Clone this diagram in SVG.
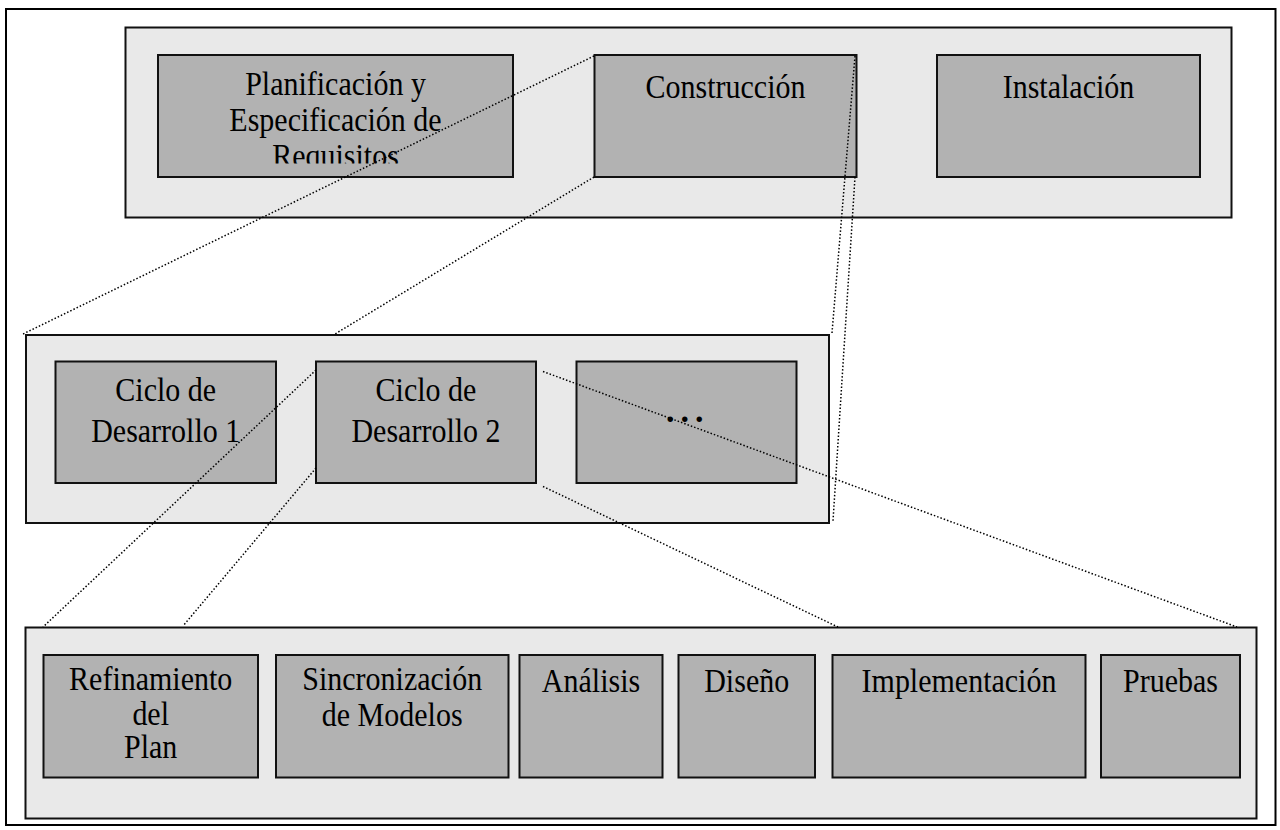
<svg xmlns="http://www.w3.org/2000/svg" width="1280" height="830" viewBox="0 0 1280 830">
<style>
.frame{fill:#fff;stroke:#000;stroke-width:2}
.cont{fill:#e9e9e9;stroke:#111;stroke-width:2}
.box{fill:#b2b2b2;stroke:#111;stroke-width:2}
.t{font-family:"Liberation Serif","Times New Roman",serif;font-size:30px;fill:#000;text-anchor:middle}
.dots{font-family:"Liberation Serif","Times New Roman",serif;font-size:34px;font-weight:bold;fill:#000;letter-spacing:6px}
.c{fill:none;stroke:#000;stroke-width:1.5;stroke-dasharray:1.5 2}
</style>
<defs>
<clipPath id="clipPlan"><rect x="158" y="55" width="355" height="108.5"/></clipPath>
</defs>
<rect class="frame" x="6" y="9" width="1269.5" height="816"/>

<g id="fases">
<rect class="cont" x="125.5" y="27.5" width="1106" height="190"/>
</g>
<g id="planificacion">
<rect class="box" x="158" y="55" width="355" height="122"/>
<g clip-path="url(#clipPlan)">
<g transform="translate(335.5 94.5) scale(1 1.12)"><text class="t" x="0" y="0">Planificación y<tspan x="0" dy="32.5">Especificación de</tspan><tspan x="0" dy="32.5">Requisitos</tspan></text></g>
</g>
</g>
<g id="construccion">
<rect class="box" x="594.5" y="55" width="262" height="122"/>
<g transform="translate(725.5 98) scale(1 1.12)"><text class="t" x="0" y="0">Construcción</text></g>
</g>
<g id="instalacion">
<rect class="box" x="937" y="55" width="263" height="122"/>
<g transform="translate(1068.5 98) scale(1 1.12)"><text class="t" x="0" y="0">Instalación</text></g>
</g>

<g id="ciclos">
<rect class="cont" x="26" y="335" width="803" height="188"/>
</g>
<g id="ciclo1">
<rect class="box" x="55.5" y="361.5" width="220.5" height="121.5"/>
<g transform="translate(165.7 401) scale(1 1.12)"><text class="t" x="0" y="0">Ciclo de<tspan x="0" dy="36.5">Desarrollo 1</tspan></text></g>
</g>
<g id="ciclo2">
<rect class="box" x="316" y="361.5" width="220" height="121.5"/>
<g transform="translate(426 401) scale(1 1.12)"><text class="t" x="0" y="0">Ciclo de<tspan x="0" dy="36.5">Desarrollo 2</tspan></text></g>
</g>
<g id="ciclo3">
<rect class="box" x="576.5" y="361.5" width="220" height="121.5"/>
<text class="dots" x="666" y="422">...</text>
</g>

<g id="actividades">
<rect class="cont" x="25.5" y="627.5" width="1231" height="191"/>
</g>
<g id="refinamiento">
<rect class="box" x="43.5" y="655" width="214.5" height="122.5"/>
<g transform="translate(150.7 690) scale(1 1.12)"><text class="t" x="0" y="0">Refinamiento<tspan x="0" dy="31.5">del</tspan><tspan x="0" dy="29.5">Plan</tspan></text></g>
</g>
<g id="sincronizacion">
<rect class="box" x="276" y="655" width="232.5" height="122.5"/>
<g transform="translate(392.2 690) scale(1 1.12)"><text class="t" x="0" y="0">Sincronización<tspan x="0" dy="32.5">de Modelos</tspan></text></g>
</g>
<g id="analisis">
<rect class="box" x="519.5" y="655" width="143" height="122.5"/>
<g transform="translate(591 692) scale(1 1.12)"><text class="t" x="0" y="0">Análisis</text></g>
</g>
<g id="diseno">
<rect class="box" x="678.5" y="655" width="136.5" height="122.5"/>
<g transform="translate(746.7 692) scale(1 1.12)"><text class="t" x="0" y="0">Diseño</text></g>
</g>
<g id="implementacion">
<rect class="box" x="832.5" y="655" width="253" height="122.5"/>
<g transform="translate(959 692) scale(1 1.12)"><text class="t" x="0" y="0">Implementación</text></g>
</g>
<g id="pruebas">
<rect class="box" x="1101" y="655" width="139" height="122.5"/>
<g transform="translate(1170.5 692) scale(1 1.12)"><text class="t" x="0" y="0">Pruebas</text></g>
</g>

<g id="connectors">
<line class="c" x1="594" y1="56" x2="23" y2="334"/>
<line class="c" x1="594" y1="177" x2="335" y2="334"/>
<line class="c" x1="855" y1="56" x2="832" y2="333"/>
<line class="c" x1="855" y1="177" x2="833" y2="521"/>
<line class="c" x1="316" y1="370" x2="43" y2="627"/>
<line class="c" x1="316" y1="468" x2="183" y2="626"/>
<line class="c" x1="543" y1="371.5" x2="1237" y2="627"/>
<line class="c" x1="543" y1="486.5" x2="838" y2="627"/>
</g>
</svg>
